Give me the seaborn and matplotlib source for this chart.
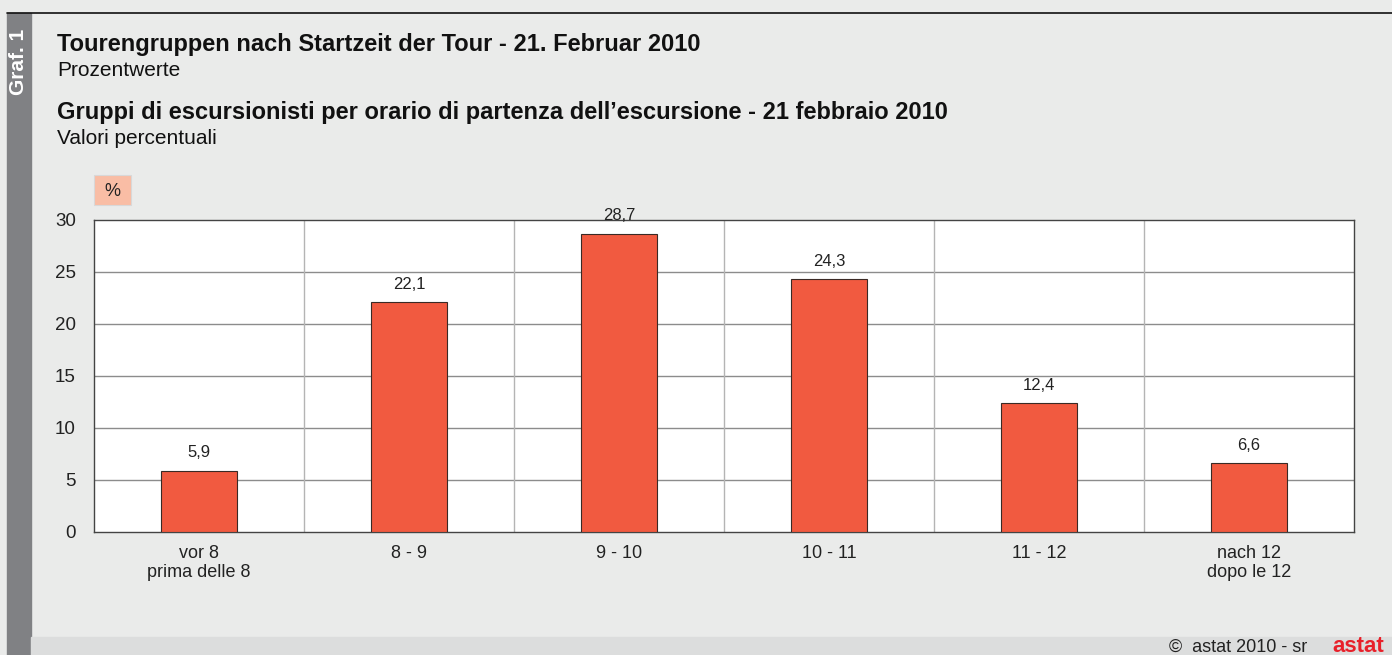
import seaborn as sns
import matplotlib.pyplot as plt
import matplotlib.patches as mpatches
import pandas as pd

categories = ["vor 8\nprima delle 8", "8 - 9", "9 - 10", "10 - 11", "11 - 12", "nach 12\ndopo le 12"]
values = [5.9, 22.1, 28.7, 24.3, 12.4, 6.6]
yticks = [0, 5, 10, 15, 20, 25, 30]

df = pd.DataFrame({"zeit": categories, "wert": values})

sns.set_theme(style="white")
plt.rcParams["font.family"] = ["Liberation Sans", "DejaVu Sans"]

bg = "#EAEBEA"
fig = plt.figure(figsize=(13.92, 6.55), dpi=100, facecolor=bg)
ax = fig.add_axes([94 / 1392, 1 - 532 / 655, 1260 / 1392, 312 / 655])
ax.set_facecolor("white")

sns.barplot(data=df, x="zeit", y="wert", color="#F15A40", width=0.36,
            edgecolor="#3a2a25", linewidth=0.8, saturation=1, ax=ax, zorder=3)

ax.set_ylim(0, 30)
ax.set_xlim(-0.5, len(categories) - 0.5)
ax.set_yticks(yticks)
ax.set_yticklabels([str(t) for t in yticks], fontsize=13.5, color="#222222")
ax.tick_params(axis="x", labelsize=13, colors="#222222", length=0, pad=9)
ax.tick_params(axis="y", length=0, pad=13)
ax.set_xlabel("")
ax.set_ylabel("")

# grid
for t in yticks[1:-1]:
    ax.axhline(t, color="#8c8c8c", lw=1, zorder=1)
for i in range(1, len(categories)):
    ax.axvline(i - 0.5, color="#b4b4b4", lw=1, zorder=1)
for s in ax.spines.values():
    s.set_color("#444444")
    s.set_linewidth(1)

for i, v in enumerate(values):
    ax.text(i, v + 1.0, f"{v:.1f}".replace(".", ","), ha="center", va="bottom",
            fontsize=12, color="#222222")

# decorations
fig.patches.append(mpatches.Rectangle((7 / 1392, 0), 24 / 1392, 1 - 13 / 655,
                                      transform=fig.transFigure, color="#808184", zorder=0))
fig.patches.append(mpatches.Rectangle((31 / 1392, 0), 1 - 31 / 1392, 18 / 655,
                                      transform=fig.transFigure, color="#DCDDDD", zorder=0))
fig.add_artist(plt.Line2D([7 / 1392, 1], [1 - 13 / 655, 1 - 13 / 655],
                          transform=fig.transFigure, color="#111111", lw=1.2))
fig.text(19 / 1392, 1 - 62 / 655, "Graf. 1", rotation=90, ha="center", va="center",
         color="white", fontsize=15, fontweight="bold")

fig.text(57 / 1392, 1 - 44 / 655, "Tourengruppen nach Startzeit der Tour - 21. Februar 2010",
         fontsize=17, fontweight="bold", color="#111111", va="center")
fig.text(57 / 1392, 1 - 71 / 655, "Prozentwerte", fontsize=15, color="#111111", va="center")
fig.text(57 / 1392, 1 - 113 / 655,
         "Gruppi di escursionisti per orario di partenza dell\u2019escursione - 21 febbraio 2010",
         fontsize=17, fontweight="bold", color="#111111", va="center")
fig.text(57 / 1392, 1 - 138 / 655, "Valori percentuali", fontsize=15, color="#111111", va="center")

fig.patches.append(mpatches.Rectangle((94 / 1392, 1 - 205 / 655), 37 / 1392, 30 / 655,
                                      transform=fig.transFigure, facecolor="#F9BDA5",
                                      edgecolor="#d8d8d8", lw=0.8))
fig.text(112.5 / 1392, 1 - 191 / 655, "%", ha="center", va="center", fontsize=13, color="#222222")

fig.text(1307 / 1392, 1 - 647 / 655, "\u00a9  astat 2010 - sr", ha="right", va="center",
         fontsize=13, color="#222222")
fig.text(1358 / 1392, 1 - 646 / 655, "astat", ha="center", va="center",
         fontsize=16, fontweight="bold", color="#E8202A")

plt.savefig("out.png", dpi=100, facecolor=bg)
